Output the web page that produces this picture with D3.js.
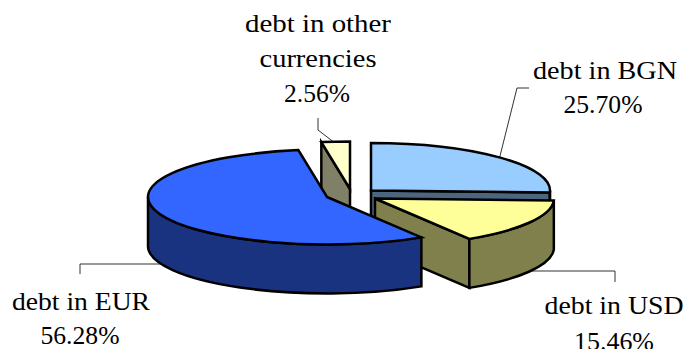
<!DOCTYPE html>
<html>
<head>
<meta charset="utf-8">
<script src="https://cdn.jsdelivr.net/npm/d3@7"></script>
<style>
html,body{margin:0;padding:0;background:#fff;overflow:hidden}
text{font-family:"Liberation Serif",serif;font-size:26px;fill:#000;text-anchor:middle}
</style>
</head>
<body>
<svg id="chart" width="684" height="349"></svg>
<script>
// Currency composition of the debt, percent
const categories = ["debt in BGN", "debt in USD", "debt in EUR", "debt in other"];
const shares = [25.70, 15.46, 56.28, 2.56];
const valueLabels = ["25.70%", "15.46%", "56.28%", "2.56%"];

// Appearance per slice, in the same order as the categories
const topColors = ["#99ccff", "#ffff99", "#3366ff", "#ffffcc"];
const sideColors = ["#4d6680", "#80804d", "#1a3380", "#808066"];
const centres = [[371, 190.5], [375, 198.5], [327, 197], [350, 189]];

// Ellipse that the tilted disc projects to, and the height of its rim
const rx = 179, ry = 47.5, depth = 49;

// Label lines: text, centre x, baseline y, set width
const labelLines = [
  [categories[0], 605, 79, 144],
  [valueLabels[0], 603, 113, 79],
  [categories[1], 614, 314, 139],
  [valueLabels[1], 614, 350, 80],
  [categories[2], 81, 310, 138],
  [valueLabels[2], 80, 344, 79],
  [categories[3], 318, 32, 146],
  ["currencies", 318, 67, 117],
  [valueLabels[3], 317, 102, 66]
];
const leaders = [
  [[529, 88], [517, 88], [499, 160]],
  [[530, 271], [615, 271], [615, 282]],
  [[165, 264], [80, 264], [80, 274]],
  [[318, 118], [318, 130], [335, 143]]
];

const svg = d3.select("#chart");
const slices = d3.pie().sort(null).value(d => d)(shares);

// Leader lines run beneath the disc, which trims their inner ends
const line = d3.line();
svg.append("g").selectAll("path").data(leaders).enter().append("path")
  .attr("d", line).attr("fill", "none").attr("stroke", "#333").attr("stroke-width", 1);

// Point on the rim of a slice's ellipse, angle clockwise from twelve o'clock
const rim = (c, a, dy = 0) => [c[0] + rx * Math.sin(a), c[1] - ry * Math.cos(a) + dy];
const arcTo = (p, sweep) => `A${rx},${ry} 0 ${sweep.large} ${sweep.dir} ${p[0]},${p[1]}`;

function topPath(c, a0, a1) {
  const p0 = rim(c, a0), p1 = rim(c, a1);
  return `M${c[0]},${c[1]}L${p0[0]},${p0[1]}${arcTo(p1, {large: a1 - a0 > Math.PI ? 1 : 0, dir: 1})}Z`;
}

// Outer wall across the part of the arc that faces the viewer
function outerWall(c, a0, a1) {
  const s = Math.max(a0, Math.PI / 2), e = Math.min(a1, Math.PI * 1.5);
  if (e <= s) return null;
  const p0 = rim(c, s), p1 = rim(c, e), q1 = rim(c, e, depth), q0 = rim(c, s, depth);
  return `M${p0[0]},${p0[1]}${arcTo(p1, {large: 0, dir: 1})}L${q1[0]},${q1[1]}${arcTo(q0, {large: 0, dir: 0})}Z`;
}

// Flat cut face along one radius
function cutWall(c, a) {
  const p = rim(c, a);
  return `M${c[0]},${c[1]}L${p[0]},${p[1]}L${p[0]},${p[1] + depth}L${c[0]},${c[1] + depth}Z`;
}

// Back slices first so the nearer ones overlap them
const drawOrder = [3, 0, 1, 2];
const pieGroup = svg.append("g")
  .attr("stroke", "#000").attr("stroke-width", 2.5).attr("stroke-linejoin", "miter");

drawOrder.forEach(i => {
  const s = slices[i], c = centres[i];
  const walls = [];
  if (i === 3) walls.push(cutWall(c, s.startAngle));
  if (i === 0 || i === 1) walls.push(cutWall(c, s.endAngle));
  const outer = outerWall(c, s.startAngle, s.endAngle);
  if (outer) walls.push(outer);
  pieGroup.selectAll(null).data(walls).enter().append("path")
    .attr("d", d => d).attr("fill", sideColors[i]);
  pieGroup.append("path").attr("d", topPath(c, s.startAngle, s.endAngle)).attr("fill", topColors[i]);
});

// Labels, each fitted to its set width
svg.append("g").selectAll("text").data(labelLines).enter().append("text")
  .attr("x", d => d[1]).attr("y", d => d[2])
  .attr("textLength", d => d[3]).attr("lengthAdjust", "spacingAndGlyphs")
  .text(d => d[0]);
</script>
</body>
</html>
